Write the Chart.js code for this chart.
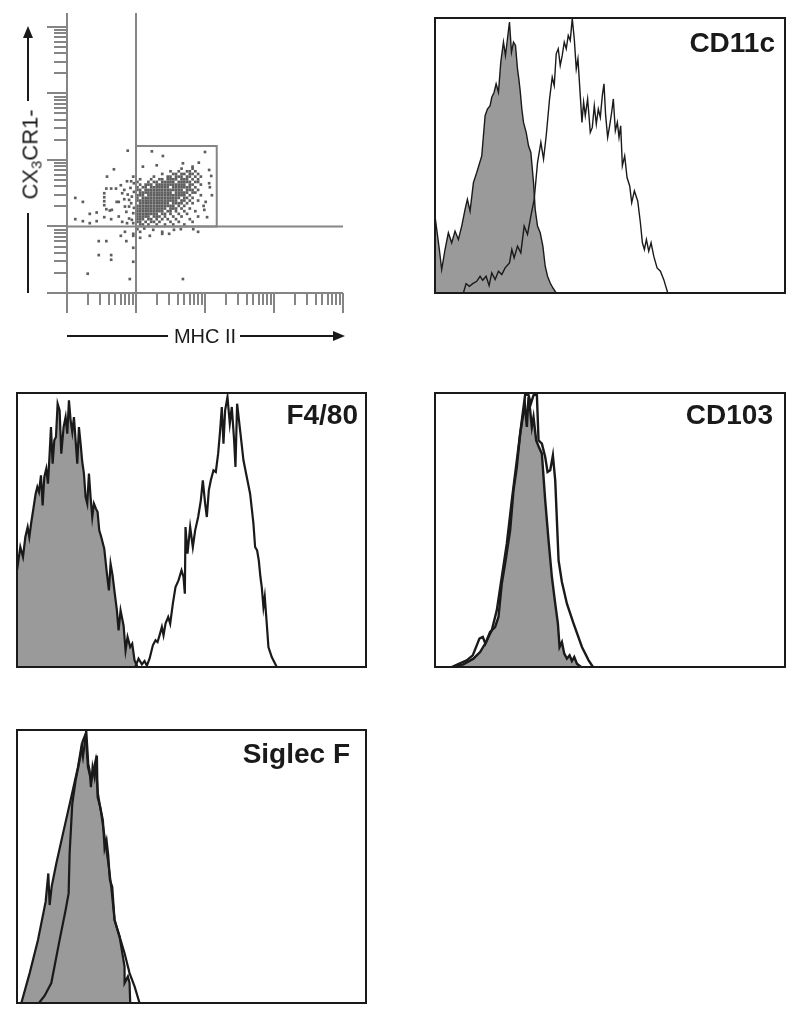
<!DOCTYPE html>
<html lang="en">
<head>
<meta charset="UTF-8">
<title>CX3CR1- MHC II+ cells</title>
<script src="https://cdn.jsdelivr.net/npm/chart.js@4"></script>
<style>
  html, body { margin: 0; padding: 0; background: #fff; }
  body { width: 800px; height: 1020px; position: relative; overflow: hidden;
         font-family: "Liberation Sans", Arial, sans-serif; color: #1a1a1a; }
  canvas { position: absolute; }
  .lbl { position: absolute; width: 200px; text-align: right; font-weight: bold;
         font-size: 28px; line-height: 28px; white-space: nowrap; }
  .axis { position: absolute; font-size: 20px; line-height: 20px; text-align: center; white-space: nowrap; }
  .axis sub { font-size: 15px; line-height: 0; vertical-align: -4px; }
</style>
</head>
<body>

<canvas id="dotplot" width="360" height="350" style="left:0;top:0"></canvas>
<div class="axis" style="left:145px;top:326px;width:120px">MHC II</div>
<div class="axis" style="left:-30px;top:144px;width:120px;font-size:22px;line-height:21px;transform:rotate(-90deg)">CX<sub>3</sub>CR1-</div>

<canvas id="cd11c" width="354" height="279" style="left:433px;top:16px"></canvas>
<div class="lbl" style="left:575px;top:29px">CD11c</div>

<canvas id="f480" width="353" height="278" style="left:15px;top:391px"></canvas>
<div class="lbl" style="left:158px;top:401px">F4/80</div>

<canvas id="cd103" width="354" height="278" style="left:433px;top:391px"></canvas>
<div class="lbl" style="left:573px;top:401px">CD103</div>

<canvas id="siglecf" width="353" height="277" style="left:15px;top:728px"></canvas>
<div class="lbl" style="left:150px;top:740px">Siglec F</div>

<script>
// ================= DOT PLOT (log10 decades) =================
const quadX = 1.0;            // MHC II quadrant line
const quadY = 1.0;            // CX3CR1 quadrant line
const gateX = [1.0, 2.17];
const gateY = [1.0, 2.21];

// dense part of the population, one row per CX3CR1 bin: [y, [x...]]
const coreRows = [
  [1.87, [1.66, 1.82]],
  [1.83, [1.50, 1.62, 1.74, 1.78, 1.86]],
  [1.79, [1.38, 1.54, 1.58, 1.66, 1.70, 1.78, 1.82, 1.90]],
  [1.75, [1.26, 1.46, 1.50, 1.58, 1.62, 1.66, 1.74, 1.78, 1.86, 1.94]],
  [1.71, [1.06, 1.22, 1.34, 1.38, 1.46, 1.50, 1.54, 1.58, 1.66, 1.70, 1.74, 1.82, 1.90]],
  [1.67, [1.02, 1.18, 1.26, 1.30, 1.38, 1.42, 1.46, 1.50, 1.54, 1.62, 1.66, 1.70, 1.74, 1.78, 1.86, 1.90]],
  [1.63, [1.06, 1.14, 1.18, 1.22, 1.30, 1.34, 1.38, 1.42, 1.46, 1.50, 1.54, 1.58, 1.62, 1.66, 1.70, 1.78, 1.82, 1.94]],
  [1.59, [1.02, 1.10, 1.14, 1.22, 1.26, 1.30, 1.34, 1.38, 1.42, 1.46, 1.54, 1.58, 1.62, 1.66, 1.70, 1.74, 1.78, 1.86]],
  [1.55, [1.02, 1.06, 1.14, 1.18, 1.22, 1.26, 1.30, 1.34, 1.38, 1.42, 1.46, 1.50, 1.54, 1.58, 1.62, 1.66, 1.74, 1.78, 1.82, 1.90]],
  [1.51, [1.06, 1.10, 1.14, 1.18, 1.22, 1.26, 1.30, 1.34, 1.38, 1.42, 1.46, 1.50, 1.58, 1.62, 1.66, 1.70, 1.74, 1.82, 1.86]],
  [1.47, [1.02, 1.06, 1.10, 1.18, 1.22, 1.26, 1.30, 1.34, 1.38, 1.42, 1.46, 1.50, 1.54, 1.58, 1.62, 1.66, 1.70, 1.78, 1.94]],
  [1.43, [1.02, 1.10, 1.14, 1.18, 1.22, 1.26, 1.30, 1.34, 1.38, 1.42, 1.46, 1.50, 1.54, 1.58, 1.62, 1.70, 1.74, 1.82]],
  [1.39, [1.02, 1.06, 1.10, 1.14, 1.18, 1.22, 1.26, 1.30, 1.34, 1.38, 1.42, 1.46, 1.50, 1.54, 1.58, 1.66, 1.70, 1.78, 1.90]],
  [1.35, [1.06, 1.10, 1.14, 1.18, 1.22, 1.26, 1.30, 1.34, 1.38, 1.42, 1.46, 1.54, 1.58, 1.62, 1.66, 1.74, 1.82]],
  [1.31, [1.02, 1.06, 1.10, 1.14, 1.18, 1.22, 1.26, 1.30, 1.34, 1.38, 1.42, 1.46, 1.50, 1.54, 1.62, 1.70, 1.98]],
  [1.27, [1.02, 1.06, 1.10, 1.14, 1.18, 1.22, 1.26, 1.30, 1.34, 1.38, 1.42, 1.50, 1.54, 1.58, 1.66, 1.78]],
  [1.23, [1.02, 1.06, 1.10, 1.14, 1.18, 1.22, 1.26, 1.30, 1.34, 1.38, 1.46, 1.50, 1.58, 1.70, 1.86]],
  [1.19, [1.02, 1.06, 1.10, 1.14, 1.18, 1.22, 1.26, 1.30, 1.38, 1.42, 1.50, 1.62, 1.74]],
  [1.15, [1.02, 1.06, 1.10, 1.14, 1.18, 1.26, 1.30, 1.34, 1.42, 1.54, 1.66, 1.90]],
  [1.11, [1.02, 1.06, 1.10, 1.18, 1.22, 1.30, 1.38, 1.46, 1.58, 1.78]],
  [1.07, [1.02, 1.06, 1.14, 1.22, 1.26, 1.34, 1.50, 1.62, 1.82]],
  [1.03, [1.06, 1.10, 1.18, 1.30, 1.42, 1.54, 1.70]]
];

// scattered events [x, y]
const sparseEvents = [
  [1.23, 2.13], [1.39, 2.06], [2.00, 2.12], [1.68, 1.95], [1.91, 1.96], [2.09, 1.76], [2.06, 1.65],
  [2.07, 1.59], [2.01, 1.37], [2.03, 1.14], [2.06, 1.85], [1.99, 1.25], [2.10, 1.47], [1.30, 1.92],
  [1.82, 1.90], [1.10, 1.90],
  [0.88, 2.14], [0.68, 1.86], [0.58, 1.75], [0.87, 1.68], [0.93, 1.68], [0.78, 1.62], [0.71, 1.57],
  [0.64, 1.57], [0.57, 1.57], [0.54, 1.50], [0.83, 1.55], [0.80, 1.50], [0.12, 1.43], [0.23, 1.37],
  [0.54, 1.44], [0.54, 1.38], [0.54, 1.32], [0.72, 1.37], [0.75, 1.37], [0.83, 1.41], [0.90, 1.40],
  [0.57, 1.26], [0.62, 1.24], [0.65, 1.25], [0.43, 1.21], [0.33, 1.19], [0.12, 1.11], [0.23, 1.08],
  [0.33, 1.05], [0.43, 1.08], [0.54, 1.14], [0.64, 1.11], [0.75, 1.15], [0.80, 1.07], [0.87, 1.05],
  [0.94, 1.10], [0.90, 1.30], [0.94, 1.45], [0.96, 1.20], [0.92, 1.58], [0.97, 1.52], [0.90, 1.12],
  [0.96, 1.05], [0.86, 1.22], [0.93, 1.35], [0.97, 1.65], [0.84, 1.30], [0.96, 1.75], [0.88, 1.48],
  [0.97, 1.28],
  [0.84, 0.92], [0.78, 0.86], [0.46, 0.78], [0.57, 0.78], [0.86, 0.78], [0.96, 0.89], [0.96, 0.86],
  [1.06, 0.92], [1.06, 0.83], [1.20, 0.86], [1.38, 0.92], [1.38, 0.89], [1.48, 0.89], [1.65, 0.96],
  [1.83, 0.96], [1.90, 0.92], [1.55, 0.95], [1.12, 0.97], [1.25, 0.95], [1.02, 0.96],
  [0.46, 0.57], [0.64, 0.57], [0.64, 0.50], [0.96, 0.47], [0.30, 0.29], [0.91, 0.21], [1.68, 0.21],
  [0.96, 0.68]
];

// ================= HISTOGRAMS (channel 0-1048, count 0-822) =================
const cd11cIsoCh = [0, 13, 20, 30, 40, 50, 60, 70, 80, 90, 97, 105, 115, 125, 140, 145, 150, 157, 165, 170, 177, 183, 190, 197, 205, 211, 217, 223, 229, 235, 241, 247, 251, 255, 260, 265, 273, 280, 287, 295, 300, 307, 315, 323, 330, 337, 345, 353, 363];
const cd11cIsoCt = [230, 130, 70, 130, 180, 150, 185, 160, 200, 250, 280, 245, 330, 360, 410, 470, 530, 550, 560, 585, 600, 625, 600, 690, 750, 710, 760, 810, 720, 750, 740, 670, 640, 605, 550, 510, 480, 440, 420, 330, 250, 200, 180, 140, 80, 50, 30, 15, 0];
const cd11cCh = [85, 93, 103, 113, 125, 135, 143, 153, 162, 170, 180, 190, 200, 210, 223, 230, 237, 247, 257, 267, 277, 287, 297, 307, 317, 325, 333, 343, 351, 357, 363, 369, 375, 381, 387, 393, 399, 405, 411, 417, 423, 428, 435, 440, 445, 450, 457, 465, 471, 477, 483, 489, 495, 501, 506, 511, 517, 523, 529, 534, 540, 546, 551, 556, 561, 568, 575, 583, 589, 597, 607, 615, 621, 627, 633, 640, 647, 655, 665, 675, 685, 697];
const cd11cCt = [0, 28, 20, 28, 35, 50, 38, 50, 22, 60, 40, 65, 55, 75, 90, 130, 105, 140, 120, 200, 175, 230, 280, 390, 450, 400, 470, 580, 645, 620, 715, 730, 680, 710, 750, 730, 770, 755, 820, 760, 670, 700, 590, 510, 570, 530, 580, 480, 495, 560, 505, 550, 525, 590, 625, 530, 465, 500, 540, 580, 485, 510, 465, 500, 380, 410, 345, 320, 270, 305, 275, 210, 150, 130, 160, 125, 150, 110, 75, 65, 40, 0];

const f480IsoCh = [0, 10, 18, 25, 32, 37, 43, 50, 56, 61, 66, 72, 77, 82, 88, 93, 98, 102, 107, 112, 117, 122, 128, 133, 140, 146, 151, 156, 161, 166, 171, 176, 181, 186, 191, 196, 201, 206, 211, 216, 221, 226, 231, 237, 242, 247, 253, 262, 270, 276, 281, 287, 293, 300, 305, 311, 320, 326, 332, 340, 346, 353, 362];
const f480IsoCt = [290, 360, 330, 390, 420, 390, 435, 480, 520, 540, 525, 575, 485, 570, 595, 550, 640, 720, 610, 680, 690, 790, 770, 640, 720, 750, 700, 800, 740, 705, 750, 680, 610, 720, 670, 615, 580, 510, 490, 580, 510, 450, 490, 475, 465, 410, 390, 355, 280, 230, 310, 275, 225, 170, 110, 170, 125, 50, 90, 60, 70, 20, 0];
const f480Ch = [355, 365, 375, 383, 390, 398, 408, 416, 422, 428, 435, 440, 446, 454, 460, 468, 476, 485, 494, 500, 504, 506, 512, 520, 528, 535, 544, 552, 558, 565, 570, 576, 582, 590, 597, 604, 610, 615, 620, 625, 632, 639, 645, 652, 656, 661, 670, 680, 690, 700, 710, 715, 721, 726, 731, 735, 740, 744, 750, 755, 765, 780];
const f480Ct = [0, 25, 8, 18, 4, 25, 65, 80, 75, 95, 120, 95, 130, 150, 130, 190, 240, 260, 290, 270, 220, 420, 340, 420, 360, 410, 450, 500, 560, 490, 450, 530, 560, 590, 585, 640, 710, 780, 670, 770, 810, 730, 780, 680, 600, 790, 710, 620, 570, 520, 430, 360, 350, 320, 270, 240, 180, 210, 130, 60, 30, 0];

const cd103IsoCh = [55, 85, 115, 135, 153, 165, 180, 190, 200, 210, 225, 235, 245, 255, 263, 269, 275, 280, 285, 290, 295, 303, 311, 320, 330, 340, 350, 360, 368, 373, 380, 387, 395, 403, 410, 417, 425, 437];
const cd103IsoCt = [0, 8, 25, 45, 75, 105, 120, 150, 250, 310, 410, 530, 600, 700, 750, 790, 720, 810, 770, 720, 750, 680, 660, 640, 500, 380, 270, 190, 130, 60, 75, 40, 25, 35, 18, 30, 10, 0];
const cd103Ch = [50, 73, 95, 113, 125, 133, 143, 151, 160, 170, 185, 200, 215, 230, 245, 260, 270, 280, 287, 295, 305, 310, 320, 330, 337, 345, 353, 360, 370, 380, 395, 415, 440, 460, 473];
const cd103Ct = [0, 10, 20, 35, 65, 85, 90, 70, 90, 110, 170, 270, 370, 500, 620, 740, 818, 816, 790, 815, 818, 680, 670, 630, 585, 590, 635, 560, 320, 255, 190, 130, 60, 20, 0];

const siglecIsoCh = [13, 38, 63, 86, 94, 98, 104, 118, 138, 163, 183, 193, 198, 208, 214, 218, 222, 227, 233, 240, 242, 250, 258, 263, 269, 274, 279, 286, 293, 308, 323, 323, 333, 338, 340];
const siglecIsoCt = [0, 90, 190, 305, 390, 295, 350, 420, 510, 620, 710, 770, 740, 820, 720, 700, 650, 710, 680, 745, 620, 590, 550, 465, 490, 445, 370, 350, 250, 200, 110, 60, 80, 60, 0];
const siglecCh = [66, 83, 103, 128, 146, 155, 158, 166, 176, 188, 198, 206, 213, 223, 236, 243, 253, 263, 273, 283, 293, 308, 323, 338, 353, 368];
const siglecCt = [0, 22, 60, 190, 280, 330, 450, 600, 670, 730, 790, 810, 710, 670, 730, 630, 570, 500, 430, 350, 250, 200, 150, 90, 50, 0];

const INK = '#1a1a1a';
const AXIS_GREY = '#858585';

// ================= DOT PLOT =================
const flowAxes = {
  id: 'flowAxes',
  afterDatasetsDraw(chart) {
    const { ctx, chartArea: a, scales: { x, y } } = chart;
    const line = (x1, y1, x2, y2) => { ctx.beginPath(); ctx.moveTo(x1, y1); ctx.lineTo(x2, y2); ctx.stroke(); };
    ctx.save();
    ctx.strokeStyle = AXIS_GREY;
    ctx.lineWidth = 2;
    line(a.left, a.top, a.left, a.bottom);
    line(a.left, a.bottom, a.right, a.bottom);
    // log decade tick marks
    for (let k = 0; k <= 4; k++) {
      for (let m = 1; m <= 9; m++) {
        const v = m * Math.pow(10, k);
        if (v <= x.max) {
          const px = Math.round(x.getPixelForValue(v));
          line(px, a.bottom, px, a.bottom + (m === 1 ? 20 : 12));
        }
        if (v <= y.max) {
          const py = Math.round(y.getPixelForValue(v));
          line(a.left - (m === 1 ? 20 : 13), py, a.left, py);
        }
      }
    }
    // quadrants and gate
    const qx = x.getPixelForValue(Math.pow(10, quadX));
    const qy = y.getPixelForValue(Math.pow(10, quadY));
    line(qx, a.top, qx, a.bottom);
    line(a.left, qy, a.right, qy);
    const g0x = x.getPixelForValue(Math.pow(10, gateX[0]));
    const g1x = x.getPixelForValue(Math.pow(10, gateX[1]));
    const g0y = y.getPixelForValue(Math.pow(10, gateY[0]));
    const g1y = y.getPixelForValue(Math.pow(10, gateY[1]));
    ctx.strokeRect(g0x, g1y, g1x - g0x, g0y - g1y);

    // axis title arrows
    ctx.strokeStyle = INK;
    ctx.fillStyle = INK;
    const ay = a.bottom + 43;
    line(a.left, ay, a.left + 101, ay);
    line(a.left + 173, ay, a.right - 6, ay);
    ctx.beginPath(); ctx.moveTo(a.right + 2, ay); ctx.lineTo(a.right - 10, ay - 5); ctx.lineTo(a.right - 10, ay + 5); ctx.closePath(); ctx.fill();
    const ax = a.left - 39;
    line(ax, a.bottom, ax, a.bottom - 80);
    line(ax, a.top + 88, ax, a.top + 22);
    ctx.beginPath(); ctx.moveTo(ax, a.top + 13); ctx.lineTo(ax - 5, a.top + 25); ctx.lineTo(ax + 5, a.top + 25); ctx.closePath(); ctx.fill();
    ctx.restore();
  }
};

const dots = [];
coreRows.forEach(([yv, xs]) => xs.forEach(xv => dots.push({ x: Math.pow(10, xv), y: Math.pow(10, yv) })));
sparseEvents.forEach(([xv, yv]) => dots.push({ x: Math.pow(10, xv), y: Math.pow(10, yv) }));

new Chart(document.getElementById('dotplot'), {
  type: 'scatter',
  data: {
    datasets: [{
      data: dots,
      pointStyle: 'rect',
      pointRadius: 1.9,
      backgroundColor: '#5e5e5e',
      borderWidth: 0
    }]
  },
  options: {
    responsive: false,
    animation: false,
    events: [],
    layout: { padding: { left: 67, top: 13, right: 17, bottom: 57 } },
    scales: {
      x: { type: 'logarithmic', min: 1, max: 10000, display: false },
      y: { type: 'logarithmic', min: 1, max: 16218, display: false }
    },
    plugins: { legend: { display: false }, tooltip: { enabled: false } }
  },
  plugins: [flowAxes]
});

// ================= HISTOGRAMS =================
const frame = {
  id: 'frame',
  afterDraw(chart) {
    const { ctx, chartArea: a } = chart;
    ctx.save();
    ctx.strokeStyle = INK;
    ctx.lineWidth = 2;
    ctx.strokeRect(a.left, a.top, a.width, a.height);
    ctx.restore();
  }
};

function toXY(xs, ys) {
  return xs.map((v, i) => ({ x: v, y: ys[i] }));
}

function histogram(id, isoCh, isoCt, ch, ct, lw) {
  new Chart(document.getElementById(id), {
    type: 'scatter',
    data: {
      datasets: [
        { // stained sample, open line on top
          data: toXY(ch, ct), showLine: true, fill: false,
          borderColor: INK, borderWidth: lw, pointRadius: 0, tension: 0
        },
        { // isotype control, grey filled
          data: toXY(isoCh, isoCt), showLine: true, fill: 'origin',
          backgroundColor: '#9a9a9a', borderColor: INK, borderWidth: lw, pointRadius: 0, tension: 0
        }
      ]
    },
    options: {
      responsive: false,
      animation: false,
      events: [],
      layout: { padding: 2 },
      scales: {
        x: { type: 'linear', min: 0, max: 1048, display: false },
        y: { type: 'linear', min: 0, max: 822, display: false }
      },
      plugins: { legend: { display: false }, tooltip: { enabled: false } }
    },
    plugins: [frame]
  });
}

histogram('cd11c', cd11cIsoCh, cd11cIsoCt, cd11cCh, cd11cCt, 1.4);
histogram('f480', f480IsoCh, f480IsoCt, f480Ch, f480Ct, 2.2);
histogram('cd103', cd103IsoCh, cd103IsoCt, cd103Ch, cd103Ct, 2.4);
histogram('siglecf', siglecIsoCh, siglecIsoCt, siglecCh, siglecCt, 2.2);
</script>
</body>
</html>
